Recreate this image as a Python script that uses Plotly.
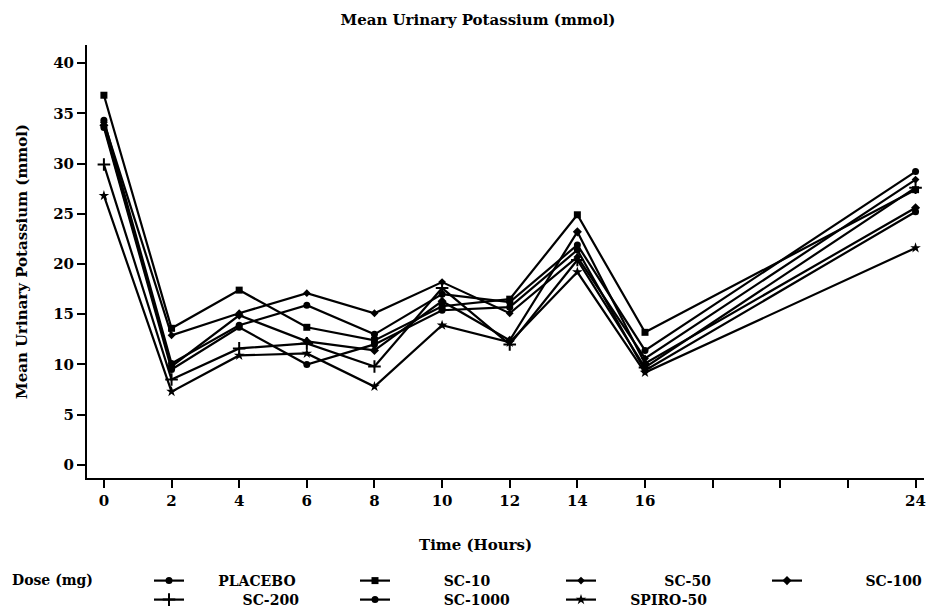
import plotly.graph_objects as go

# Sampling times (hours) and mean urinary potassium (mmol) per dose group
hours = [0, 2, 4, 6, 8, 10, 12, 14, 16, 24]

placebo = [34.3, 10.1, 13.9, 15.9, 13.0, 17.0, 16.2, 21.9, 11.4, 29.2]
sc_10 = [36.8, 13.6, 17.4, 13.7, 12.4, 15.8, 16.5, 24.9, 13.2, 27.4]
sc_50 = [34.1, 12.9, 15.1, 17.1, 15.1, 18.2, 15.1, 20.7, 10.6, 28.4]
sc_100 = [33.8, 9.8, 14.9, 12.3, 11.4, 16.3, 12.4, 23.2, 10.1, 25.6]
sc_200 = [29.9, 8.5, 11.6, 12.1, 9.8, 17.6, 12.0, 20.4, 9.7, 27.6]
sc_1000 = [33.6, 9.5, 13.7, 10.0, 12.0, 15.4, 15.7, 21.4, 9.4, 25.2]
spiro_50 = [26.8, 7.3, 10.9, 11.1, 7.8, 13.9, 12.2, 19.2, 9.2, 21.6]

series_names = ["PLACEBO", "SC-10", "SC-50", "SC-100", "SC-200", "SC-1000", "SPIRO-50"]
series_values = [placebo, sc_10, sc_50, sc_100, sc_200, sc_1000, spiro_50]
series_symbols = ["circle", "square", "diamond", "diamond", "cross-thin", "circle", "star"]
series_sizes = [7, 7, 6, 7, 9, 7, 8]
# legend rows: first four on the top row, the rest below
series_legend = ["legend", "legend", "legend", "legend", "legend2", "legend2", "legend2"]
# gap between the key sample and its label, in non-breaking spaces
series_label_pad = [6, 10, 13, 12, 11, 10, 6]

x_tickvals = [0, 2, 4, 6, 8, 10, 12, 14, 16, 18, 20, 22, 24]
x_ticktext = ["0", "2", "4", "6", "8", "10", "12", "14", "16", "", "", "", "24"]
y_tickvals = [0, 5, 10, 15, 20, 25, 30, 35, 40]

FONT = "DejaVu Serif"
INK = "#000000"
W, H = 934, 616
ML, MR, MT, MB = 87, 8, 45, 138
PW, PH = W - ML - MR, H - MT - MB


def bold(size):
    return dict(family=FONT, size=size, color=INK, weight="bold")


fig = go.Figure()
for name, vals, sym, size, lg, pad in zip(series_names, series_values, series_symbols,
                                          series_sizes, series_legend, series_label_pad):
    fig.add_trace(go.Scatter(
        x=hours, y=vals, mode="lines+markers",
        name="&nbsp;" * pad + name, legend=lg,
        line=dict(color=INK, width=2.2),
        marker=dict(symbol=sym, size=size, color=INK,
                    line=dict(color=INK, width=2 if sym == "cross-thin" else 0)),
    ))

legend_common = dict(
    orientation="h", xref="container", yref="container",
    xanchor="left", yanchor="top",
    entrywidth=161, entrywidthmode="pixels",
    font=bold(14), bgcolor="rgba(0,0,0,0)", itemsizing="trace",
    tracegroupgap=0, borderwidth=0,
)

fig.update_layout(
    width=W, height=H,
    margin=dict(l=ML, r=MR, t=MT, b=MB),
    paper_bgcolor="white", plot_bgcolor="white",
    font=bold(15),
    title=dict(text="Mean Urinary Potassium (mmol)", x=478 / W, xref="container",
               xanchor="center", y=1 - 20 / H, yanchor="middle", font=bold(15)),
    showlegend=True,
    legend=dict(x=149 / W, y=1 - 565 / H, **legend_common),
    legend2=dict(x=149 / W, y=1 - 584 / H, **legend_common),
    annotations=[
        dict(text="Time (Hours)", xref="paper", yref="paper",
             x=(476 - ML) / PW, y=(MT + PH - 545) / PH,
             xanchor="center", yanchor="middle", showarrow=False, font=bold(15)),
        dict(text="Dose (mg)", xref="paper", yref="paper",
             x=(10 - ML) / PW, y=(MT + PH - 580) / PH,
             xanchor="left", yanchor="middle", showarrow=False, font=bold(14)),
    ],
)

fig.update_xaxes(
    range=[-0.5, 24.25], tickvals=x_tickvals, ticktext=x_ticktext,
    showgrid=False, zeroline=False,
    showline=True, linecolor=INK, linewidth=2,
    ticks="outside", ticklen=8, tickwidth=1.5, tickcolor=INK,
    tickfont=bold(15),
)
fig.update_yaxes(
    range=[-1.3, 41.8], tickvals=y_tickvals,
    showgrid=False, zeroline=False,
    showline=True, linecolor=INK, linewidth=2,
    ticks="outside", ticklen=8, tickwidth=1.5, tickcolor=INK,
    tickfont=bold(15),
    title=dict(text="Mean Urinary Potassium (mmol)", standoff=22, font=bold(15)),
)

fig.write_html("out.html")
